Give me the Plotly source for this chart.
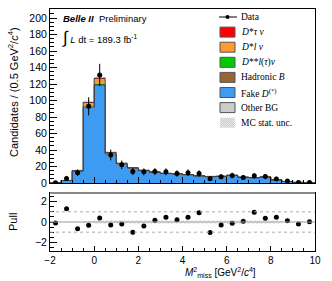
import plotly.graph_objects as go

# ---------------- data ----------------
bin_centers = [-1.75, -1.25, -0.75, -0.25, 0.25, 0.75, 1.25, 1.75, 2.25, 2.75, 3.25, 3.75,
               4.25, 4.75, 5.25, 5.75, 6.25, 6.75, 7.25, 7.75, 8.25, 8.75, 9.25, 9.75]
fake_d = [0.5, 3.0, 14.3, 92.0, 119.0, 35.0, 23.0, 18.0, 15.0, 13.0, 11.5, 10.8,
          10.0, 8.5, 7.7, 8.0, 9.2, 6.9, 6.3, 7.0, 3.7, 1.8, 0.8, 0.4]
other_bg = [0.0, 0.1, 0.3, 0.4, 0.5, 0.6, 0.4, 0.3, 0.3, 0.3, 0.2, 0.2,
            0.2, 0.2, 0.2, 0.2, 0.2, 0.2, 0.2, 0.2, 0.1, 0.1, 0.0, 0.0]
hadronic_b = [0.0, 0.0, 0.1, 0.2, 0.3, 0.3, 0.2, 0.2, 0.1, 0.1, 0.1, 0.1,
              0.1, 0.1, 0.1, 0.1, 0.1, 0.1, 0.1, 0.1, 0.1, 0.0, 0.0, 0.0]
dss_lnu = [0.0, 0.0, 0.0, 0.1, 0.2, 0.1, 0.1, 0.0, 0.0, 0.0, 0.0, 0.0,
           0.0, 0.0, 0.0, 0.0, 0.0, 0.0, 0.0, 0.0, 0.0, 0.0, 0.0, 0.0]
dst_lnu = [0.0, 0.0, 0.3, 5.0, 7.0, 1.0, 0.3, 0.1, 0.1, 0.0, 0.0, 0.0,
           0.0, 0.0, 0.0, 0.0, 0.0, 0.0, 0.0, 0.0, 0.0, 0.0, 0.0, 0.0]
dst_taunu = [0.0, 0.0, 0.0, 0.1, 0.2, 0.1, 0.0, 0.0, 0.0, 0.0, 0.0, 0.0,
             0.0, 0.0, 0.0, 0.0, 0.0, 0.0, 0.0, 0.0, 0.0, 0.0, 0.0, 0.0]
mc_unc = [0.4, 1.0, 1.5, 3.0, 4.0, 2.0, 1.6, 1.4, 1.3, 1.2, 1.1, 1.1,
          1.0, 1.0, 0.9, 0.9, 1.0, 0.9, 0.8, 0.9, 0.6, 0.4, 0.3, 0.2]
data_y = [0.3, 5.5, 12.5, 93.0, 131.0, 34.0, 22.0, 14.0, 13.5, 13.8, 13.5, 11.5,
          12.5, 11.5, 5.3, 7.5, 9.0, 6.7, 8.7, 7.8, 5.0, 2.5, 0.5, 0.5]
data_err = [1.0, 2.6, 4.0, 11.0, 13.5, 6.6, 5.3, 4.3, 4.2, 4.2, 4.2, 3.9,
            4.0, 3.9, 2.6, 3.1, 3.4, 3.0, 3.3, 3.2, 2.5, 1.8, 1.0, 1.0]
pull = [-0.1, 1.3, -0.67, -0.33, 0.4, -0.3, -0.2, -1.0, -0.4, 0.17, 0.47, 0.23,
        0.47, 0.9, -1.03, -0.3, -0.13, 0.07, 0.97, 0.37, 0.47, 0.13, -0.2, 0.03]
pull_band = [0.0, 0.0, 0.0, 0.12, 0.15, 0.15, 0.15, 0.15, 0.18, 0.2, 0.2, 0.2,
             0.2, 0.2, 0.22, 0.22, 0.22, 0.22, 0.22, 0.22, 0.2, 0.0, 0.0, 0.0]
y_ticks = [0, 20, 40, 60, 80, 100, 120, 140, 160, 180, 200]
pull_ticks = [-2, 0, 2]
x_ticks = [-2, 0, 2, 4, 6, 8, 10]

BIN_W = 0.5
COL = {"taunu": "#ff0000", "lnu": "#ff9933", "dss": "#00cc00", "had": "#996633",
       "fake": "#3d9bf2", "other": "#cccccc"}

fig = go.Figure()

# stacked components (bottom -> top)
stack = [("Fake D", fake_d, COL["fake"]), ("Other BG", other_bg, COL["other"]),
         ("Hadronic B", hadronic_b, COL["had"]), ("D** l(tau) nu", dss_lnu, COL["dss"]),
         ("D* l nu", dst_lnu, COL["lnu"]), ("D* tau nu", dst_taunu, COL["taunu"])]
for name, vals, c in stack:
    fig.add_trace(go.Bar(x=bin_centers, y=vals, width=BIN_W, name=name,
                         marker=dict(color=c, line=dict(width=0)),
                         showlegend=False, xaxis="x", yaxis="y"))

total = [sum(v) for v in zip(fake_d, other_bg, hadronic_b, dss_lnu, dst_lnu, dst_taunu)]
edges = [c - BIN_W / 2 for c in bin_centers] + [bin_centers[-1] + BIN_W / 2]

# MC stat. unc. hatched band
fig.add_trace(go.Bar(x=bin_centers, y=[2 * u for u in mc_unc],
                     base=[t - u for t, u in zip(total, mc_unc)], width=BIN_W,
                     marker=dict(color="rgba(0,0,0,0)", line=dict(width=0),
                                 pattern=dict(shape="/", fgcolor="#9a9a9a", bgcolor="rgba(0,0,0,0)",
                                              size=3, solidity=0.3)),
                     showlegend=False, xaxis="x", yaxis="y"))

# outline steps
fig.add_trace(go.Scatter(x=edges, y=fake_d + [fake_d[-1]], mode="lines", line_shape="hv",
                         line=dict(color="#333333", width=1), showlegend=False,
                         xaxis="x", yaxis="y", hoverinfo="skip"))
fig.add_trace(go.Scatter(x=edges, y=total + [total[-1]], mode="lines", line_shape="hv",
                         line=dict(color="#444444", width=1), showlegend=False,
                         xaxis="x", yaxis="y", hoverinfo="skip"))

# data
fig.add_trace(go.Scatter(x=bin_centers, y=data_y, mode="markers",
                         marker=dict(color="black", size=5),
                         error_y=dict(type="data", array=data_err, color="black", thickness=1, width=0),
                         showlegend=False, xaxis="x", yaxis="y"))

# pull band
fig.add_trace(go.Bar(x=bin_centers, y=[2 * w for w in pull_band], base=[-w for w in pull_band],
                     width=BIN_W,
                     marker=dict(color="rgba(0,0,0,0)", line=dict(width=0),
                                 pattern=dict(shape="/", fgcolor="#b0b0b0", bgcolor="rgba(0,0,0,0)",
                                              size=3, solidity=0.3)),
                     showlegend=False, xaxis="x2", yaxis="y2"))
fig.add_trace(go.Scatter(x=bin_centers, y=pull, mode="markers",
                         marker=dict(color="black", size=5), showlegend=False,
                         xaxis="x2", yaxis="y2"))

# ---------------- layout ----------------
W, H = 332, 281
L, R, T, B = 50, 17, 9, 30
PX0, PX1 = 50, 315
MAIN_TOP, MAIN_BOT = 9, 183
PULL_TOP, PULL_BOT = 193, 251
plot_h = H - T - B


def pdom(py):
    return (PULL_BOT - py) / plot_h


FONT = "Liberation Sans, Arial, sans-serif"
SERIF = "Liberation Serif, Times New Roman, serif"

axis_common = dict(showgrid=False, zeroline=False, showline=True, linecolor="black",
                   linewidth=1, mirror=True, ticks="inside", tickcolor="black",
                   tickfont=dict(family=FONT, size=10.5, color="black"))

fig.update_layout(
    width=W, height=H, margin=dict(l=L, r=R, t=T, b=B),
    paper_bgcolor="white", plot_bgcolor="white", barmode="stack", bargap=0,
    showlegend=False,
    xaxis=dict(domain=[0, 1], range=[-2, 10], anchor="y", tickvals=x_ticks, showticklabels=False,
               ticklen=6, minor=dict(ticks="inside", dtick=0.5, ticklen=3, tickcolor="black"),
               **{k: v for k, v in axis_common.items() if k != "tickfont"}),
    yaxis=dict(domain=[pdom(MAIN_BOT), 1], range=[0, 211], anchor="x", tickvals=y_ticks,
               ticklen=7, minor=dict(ticks="inside", dtick=5, ticklen=3.5, tickcolor="black"),
               **axis_common),
    xaxis2=dict(domain=[0, 1], range=[-2, 10], anchor="y2", matches="x", tickvals=x_ticks,
                ticklen=5, minor=dict(ticks="inside", dtick=0.5, ticklen=3, tickcolor="black"),
                showline=True, linecolor="black", linewidth=1, mirror=True, ticks="inside",
                tickcolor="black", showgrid=False, zeroline=False,
                tickfont=dict(family=FONT, size=10, color="black")),
    yaxis2=dict(domain=[0, pdom(PULL_TOP)], range=[-2.85, 2.85], anchor="x2", tickvals=pull_ticks,
                ticklen=7, minor=dict(ticks="inside", dtick=0.5, ticklen=3.5, tickcolor="black"),
                **axis_common),
)

shapes = []
# pull reference lines
shapes.append(dict(type="line", xref="x2 domain", yref="y2", x0=0, x1=1, y0=0, y1=0,
                   line=dict(color="#999999", width=1)))
for yv in (1, -1):
    shapes.append(dict(type="line", xref="x2 domain", yref="y2", x0=0, x1=1, y0=yv, y1=yv,
                       line=dict(color="#aaaaaa", width=1, dash="dot")))
# gray top frame of pull panel
shapes.append(dict(type="line", xref="x2 domain", yref="y2 domain", x0=0, x1=1, y0=1, y1=1,
                   line=dict(color="#888888", width=2)))

# manual legend
def xd(px):
    return (px - PX0) / (PX1 - PX0)


def yd(py):
    return (MAIN_BOT - py) / (MAIN_BOT - MAIN_TOP)


legend_rows = [
    ("Data", None),
    ("<i>D</i>*<i>τ ν</i>", COL["taunu"]),
    ("<i>D</i>*<i>l ν</i>", COL["lnu"]),
    ("<i>D</i>**<i>l</i>(<i>τ</i>)<i>ν</i>", COL["dss"]),
    ("Hadronic <i>B</i>", COL["had"]),
    ("Fake <i>D</i><sup>(*)</sup>", COL["fake"]),
    ("Other BG", COL["other"]),
    ("MC stat. unc.", "hatch"),
]
annotations = []
bx0, bx1 = 220, 235
for i, (label, col) in enumerate(legend_rows):
    cy = 17 + 15.1 * i
    if col is None:
        shapes.append(dict(type="line", xref="x domain", yref="y domain",
                           x0=xd(bx0 - 1), x1=xd(bx1 + 2), y0=yd(cy), y1=yd(cy),
                           line=dict(color="black", width=1)))
        shapes.append(dict(type="circle", xref="x domain", yref="y domain",
                           x0=xd(227.5 - 2), x1=xd(227.5 + 2), y0=yd(cy + 2), y1=yd(cy - 2),
                           fillcolor="black", line=dict(color="black", width=0)))
    elif col == "hatch":
        segs = []
        for k in range(-10, 16, 2):
            x_a, y_a = bx0 + k, cy + 5
            x_b, y_b = bx0 + k + 10, cy - 5
            if x_a < bx0:
                y_a -= (bx0 - x_a); x_a = bx0
            if x_b > bx1:
                y_b += (x_b - bx1); x_b = bx1
            if x_a >= x_b:
                continue
            segs.append(f"M {xd(x_a):.4f} {yd(y_a):.4f} L {xd(x_b):.4f} {yd(y_b):.4f}")
        shapes.append(dict(type="path", xref="x domain", yref="y domain", path=" ".join(segs),
                           line=dict(color="#b5b5b5", width=1)))
    else:
        shapes.append(dict(type="rect", xref="x domain", yref="y domain",
                           x0=xd(bx0), x1=xd(bx1), y0=yd(cy + 5), y1=yd(cy - 5),
                           fillcolor=col, line=dict(color="#555555", width=1)))
    annotations.append(dict(xref="x domain", yref="y domain", x=xd(239), y=yd(cy),
                            xanchor="left", yanchor="middle", text=label, showarrow=False,
                            font=dict(family=SERIF, size=9.5, color="black")))

annotations.append(dict(xref="x domain", yref="y domain", x=xd(61), y=yd(18),
                        xanchor="left", yanchor="middle", showarrow=False,
                        text="<b><i>Belle II</i></b>  Preliminary",
                        font=dict(family=FONT, size=9.5, color="black")))
annotations.append(dict(xref="x domain", yref="y domain", x=xd(60), y=yd(37),
                        xanchor="left", yanchor="middle", showarrow=False,
                        text="<span style='font-size:17px'>∫</span> <i>L</i> dt = 189.3 fb<sup>-1</sup>",
                        font=dict(family=FONT, size=9.5, color="black")))
# axis titles
annotations.append(dict(xref="paper", yref="paper", x=(13 - PX0) / (PX1 - PX0), y=pdom(92),
                        xanchor="center", yanchor="middle", textangle=-90, showarrow=False,
                        text="Candidates / (0.5 GeV<sup>2</sup>/<i>c</i><sup>4</sup>)",
                        font=dict(family=FONT, size=11, color="black")))
annotations.append(dict(xref="paper", yref="paper", x=(13 - PX0) / (PX1 - PX0), y=pdom(222),
                        xanchor="center", yanchor="middle", textangle=-90, showarrow=False,
                        text="Pull", font=dict(family=FONT, size=11, color="black")))
annotations.append(dict(xref="paper", yref="paper", x=(220 - PX0) / (PX1 - PX0), y=pdom(281),
                        xanchor="center", yanchor="bottom", showarrow=False,
                        text="<i>M</i><sup>2</sup><sub>miss</sub> [GeV<sup>2</sup>/<i>c</i><sup>4</sup>]",
                        font=dict(family=FONT, size=10, color="black")))

fig.update_layout(shapes=shapes, annotations=annotations)
fig.write_html("out.html", config={"displayModeBar": False},
               post_script="document.body.style.margin='0';document.body.style.padding='0';")
